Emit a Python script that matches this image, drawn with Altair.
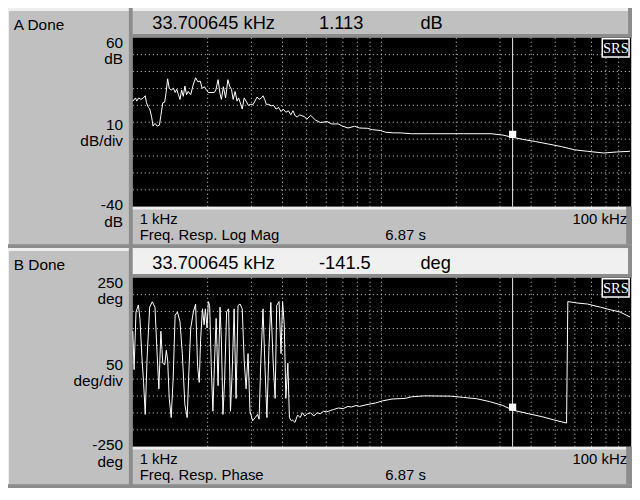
import altair as alt
import pandas as pd

# ---------------- values ----------------
# Trace A: Freq. Resp. Log Mag  (frequency in kHz, magnitude in dB)
mag_freq_khz = [1.000, 1.025, 1.037, 1.056, 1.078, 1.102, 1.122, 1.135, 1.156, 1.169,
                1.191, 1.206, 1.228, 1.254, 1.280, 1.297, 1.320, 1.344, 1.360, 1.381,
                1.401, 1.427, 1.458, 1.480, 1.503, 1.526, 1.548, 1.572, 1.596, 1.620,
                1.645, 1.670, 1.710, 1.748, 1.789, 1.828, 1.867, 1.901, 1.941, 1.971,
                2.013, 2.062, 2.125, 2.158, 2.203, 2.243, 2.272, 2.313, 2.362, 2.412,
                2.456, 2.494, 2.533, 2.579, 2.626, 2.664, 2.706, 2.755, 2.805, 2.856,
                2.916, 2.980, 3.051, 3.098, 3.163, 3.221, 3.292, 3.340, 3.392, 3.444,
                3.526, 3.604, 3.680, 3.771, 3.861, 3.946, 4.029, 4.128, 4.226, 4.319,
                4.410, 4.490, 4.585, 4.685, 4.741, 4.916, 5.006, 5.190, 5.430, 5.681,
                6.035, 6.315, 6.706, 6.915, 7.338, 7.797, 8.158, 8.795, 9.202, 9.928,
                10.39, 11.20, 11.90, 13.21, 15.79, 21.42, 27.67, 30.76, 33.70, 36.86,
                41.58, 46.91, 52.93, 59.70, 67.33, 78.32, 88.36, 100.0]
mag_db = [22.5, 24.4, 22.5, 24.4, 23.5, 24.4, 25.7, 21.5, 18.7, 18.1,
          13.0, 7.7, 9.3, 7.7, 8.3, 14.0, 21.5, 21.9, 27.2, 35.7,
          30.1, 29.1, 30.1, 27.6, 29.5, 26.3, 23.5, 29.1, 25.3, 31.4,
          26.3, 28.2, 26.3, 32.0, 36.3, 33.9, 34.4, 30.1, 31.0, 29.5,
          27.6, 27.6, 27.6, 29.1, 35.2, 26.9, 23.5, 31.0, 24.4, 35.2,
          31.0, 29.5, 23.5, 28.2, 22.5, 24.4, 21.5, 17.8, 24.4, 22.5,
          20.0, 20.6, 20.6, 22.5, 24.9, 23.5, 24.4, 25.7, 23.5, 20.6,
          20.6, 19.7, 20.0, 17.8, 18.7, 16.3, 17.8, 15.9, 16.8, 14.4,
          16.8, 14.0, 13.0, 14.4, 14.1, 13.2, 11.7, 14.1, 11.3, 9.8,
          10.4, 9.0, 9.0, 7.9, 6.6, 7.6, 6.6, 6.4, 5.6, 5.1,
          4.1, 3.7, 3.7, 3.2, 3.2, 3.2, 3.2, 2.4, 1.1, -0.1,
          -1.4, -2.9, -4.4, -6.3, -7.2, -8.2, -7.6, -7.2]

# Trace B: Freq. Resp. Phase  (frequency in kHz, phase in degrees)
phase_freq_khz = [1.000, 1.012, 1.030, 1.053, 1.068, 1.088, 1.105, 1.122, 1.142, 1.169,
                  1.198, 1.228, 1.254, 1.273, 1.297, 1.320, 1.344, 1.364, 1.381, 1.401,
                  1.427, 1.453, 1.480, 1.512, 1.548, 1.582, 1.620, 1.655, 1.680, 1.710,
                  1.752, 1.789, 1.822, 1.850, 1.873, 1.906, 1.936, 1.958, 1.989, 2.013,
                  2.038, 2.068, 2.100, 2.133, 2.164, 2.203, 2.243, 2.272, 2.305, 2.341,
                  2.384, 2.428, 2.471, 2.510, 2.556, 2.602, 2.650, 2.698, 2.755, 2.805,
                  2.856, 2.908, 2.961, 3.034, 3.107, 3.175, 3.221, 3.271, 3.340, 3.401,
                  3.463, 3.526, 3.591, 3.670, 3.737, 3.791, 3.875, 3.946, 4.004, 4.066,
                  4.128, 4.204, 4.265, 4.343, 4.398, 4.490, 4.601, 4.710, 4.814, 4.916,
                  5.037, 5.190, 5.346, 5.514, 5.681, 5.854, 6.035, 6.219, 6.408, 6.706,
                  7.016, 7.338, 7.567, 7.918, 8.158, 8.668, 9.489, 10.07, 11.03, 12.45,
                  13.21, 14.92, 18.98, 21.42, 24.16, 27.25, 30.76, 33.70, 39.14, 44.18,
                  49.83, 55.55, 56.20, 61.52, 67.34, 76.04, 83.22, 91.08, 96.70, 100.0]
phase_deg = [91.8, -21.8, 148.7, 169.5, 129.7, 16.1, -59.7, -154.4, 16.1, 162.9,
             179.0, 162.9, 16.1, -78.6, 91.8, -2.9, -7.6, 35.0, 6.6, -107.0,
             -163.8, -50.2, 139.2, 148.7, 120.3, 25.6, -126.0, -163.8, -31.3, 101.3,
             148.7, 172.3, -12.3, -59.7, 63.4, 158.1, 110.8, 158.1, 101.3, 179.5,
             167.6, -12.3, -144.9, 6.6, 129.7, -69.2, 162.9, 63.4, -154.4, -50.2,
             148.7, 158.1, -144.9, -31.3, 158.1, -107.0, 167.6, 172.3, 158.1, 6.6,
             -78.6, 25.6, -144.9, -173.3, -163.8, -154.4, -168.6, -2.9, 158.1, -12.3,
             -163.8, 35.0, 177.0, -2.9, -107.0, 167.6, 179.5, 25.6, 179.5, 110.8,
             -107.0, -2.9, -163.8, -173.3, -171.4, -178.0, -156.3, -163.8, -149.6, -159.1,
             -152.5, -149.6, -159.1, -149.6, -152.5, -144.9, -146.8, -143.0, -140.2, -135.4,
             -137.3, -130.7, -132.6, -127.9, -130.7, -126.0, -120.3, -114.6, -108.9, -107.0,
             -102.3, -99.4, -100.4, -104.2, -108.0, -116.5, -127.9, -141.5, -152.5, -161.0,
             -171.4, -179.9, 179.5, 175.2, 172.3, 162.9, 155.3, 148.7, 139.2, 134.0]

# marker readouts
cursor_khz = 33.700645
readout_a = 1.113
readout_b = -141.5
acq_time = "6.87 s"

# axis settings (top, per-division, bottom) and grid
mag_top, mag_div, mag_bottom = 60, 10, -40
phase_top, phase_div, phase_bottom = 250, 50, -250
grid_khz = [2, 3, 4, 5, 6, 7, 8, 9, 10, 20, 30, 40, 50, 60, 70, 80, 90]
grid_mag = [-30, -20, -10, 0, 10, 20, 30, 40, 50]
grid_phase = [-200, -150, -100, -50, 0, 50, 100, 150, 200]

# ---------------- layout ----------------
W, H = 624, 480
SX, SY = W / 640, H / 500
SANS = "Liberation Sans"
SERIF = "Liberation Serif"
GRAY = "#c0c0c0"
LIGHT = "#eeeeee"
HATCH = "#8c8c8c"
BLACK = "#000000"
WHITE = "#ffffff"
GRIDC = "#d4d4d4"


def px(v):
    return v * SX


def py(v):
    return v * SY


ONE = alt.Data(values=[{"k": 0}])


def box(x0, y0, x1, y1, fill, stroke=None, sw=0):
    kw = dict(fill=fill, opacity=1)
    if stroke:
        kw.update(stroke=stroke, strokeWidth=sw)
    return alt.Chart(ONE).mark_rect(**kw).encode(
        x=alt.value(px(x0)), x2=alt.value(px(x1)),
        y=alt.value(py(y0)), y2=alt.value(py(y1)))


def label(x, y, txt, size=16, align="left", font=SANS, color="black"):
    return alt.Chart(ONE).mark_text(
        text=txt, align=align, baseline="alphabetic", font=font,
        fontSize=size * SY, color=color).encode(x=alt.value(px(x)), y=alt.value(py(y)))


xscale = alt.Scale(type="log", domain=[1, 100], range=[px(128), px(638)], nice=False)


def panel(o, name, header_fill, freqs, vals, top, div, bottom, grid_vals, unit,
          readout, readout_txt, title):
    ys = alt.Scale(domain=[bottom, top], range=[py(o + 207), py(o + 31)],
                   nice=False, zero=False)
    layers = [
        box(0, o, 124, o + 3, LIGHT),
        box(0, o, 1, o + 246, LIGHT),
        box(124, o, 128, o + 250, HATCH),
        box(128, o, 636, o + 3, LIGHT),
        box(128, o + 3, 636, o + 27, header_fill),
        box(636, o, 640, o + 31, HATCH),
        box(128, o + 27, 640, o + 31, HATCH),
        box(128, o + 31, 639, o + 207, BLACK),
        box(128, o + 207, 634, o + 210, LIGHT),
        box(634, o + 207, 640, o + 246, HATCH),
        box(0, o + 246, 640, o + 250, HATCH),
    ]
    gv = pd.DataFrame({"f": grid_khz})
    gh = pd.DataFrame({"v": grid_vals})
    layers.append(alt.Chart(gv).mark_rule(color=GRIDC, strokeWidth=1, strokeDash=[1, 3]).encode(
        x=alt.X("f:Q", scale=xscale, axis=None),
        y=alt.value(py(o + 31)), y2=alt.value(py(o + 207))))
    layers.append(alt.Chart(gh).mark_rule(color=GRIDC, strokeWidth=1, strokeDash=[1, 3]).encode(
        y=alt.Y("v:Q", scale=ys, axis=None),
        x=alt.value(px(128)), x2=alt.value(px(639))))
    cur = pd.DataFrame({"f": [cursor_khz], "v": [readout]})
    layers.append(alt.Chart(cur).mark_rule(color="#e6e6e6", strokeWidth=1).encode(
        x=alt.X("f:Q", scale=xscale, axis=None),
        y=alt.value(py(o + 31)), y2=alt.value(py(o + 207))))
    tr = pd.DataFrame({"f": freqs, "v": vals, "i": list(range(len(freqs)))})
    layers.append(alt.Chart(tr).mark_line(color=WHITE, strokeWidth=1, interpolate="linear").encode(
        x=alt.X("f:Q", scale=xscale, axis=None),
        y=alt.Y("v:Q", scale=ys, axis=None),
        order="i:Q"))
    layers.append(alt.Chart(cur).mark_square(size=52, color=WHITE, opacity=1, filled=True,
                                             yOffset=-3 * SY).encode(
        x=alt.X("f:Q", scale=xscale, axis=None),
        y=alt.Y("v:Q", scale=ys, axis=None)))
    # SRS logo
    layers.append(box(609.5, o + 32, 637, o + 51, BLACK, stroke=WHITE, sw=1.5))
    layers.append(label(623.5, o + 47, "SRS", size=15, align="center", font=SERIF, color=WHITE))
    # texts
    layers += [
        label(6, o + 23, name, 16),
        label(118, o + 42, str(top), 16, "right"),
        label(118, o + 58, unit, 16, "right"),
        label(118, o + 127, str(div), 16, "right"),
        label(118, o + 144, unit + "/div", 16, "right"),
        label(118, o + 210, str(bottom), 16, "right"),
        label(118, o + 228, unit, 16, "right"),
        label(148, o + 22, f"{cursor_khz:.6f} kHz", 19),
        label(319, o + 22, readout_txt, 19),
        label(423, o + 22, unit, 19),
        label(135, o + 225, "1 kHz", 15.5),
        label(635, o + 225, "100 kHz", 15.5, "right"),
        label(135, o + 242, title, 15.5),
        label(387, o + 242, acq_time, 15.5),
    ]
    return layers


layers = [box(0, 0, 640, 500, GRAY)]
layers += panel(0, "A Done", GRAY, mag_freq_khz, mag_db, mag_top, mag_div, mag_bottom,
                grid_mag, "dB", readout_a, f"{readout_a:.3f}", "Freq. Resp. Log Mag")
layers += panel(250, "B Done", "#f0f0f0", phase_freq_khz, phase_deg, phase_top, phase_div,
                phase_bottom, grid_phase, "deg", readout_b, f"{readout_b:.1f}",
                "Freq. Resp. Phase")

chart = alt.layer(*layers).properties(
    width=W, height=H, padding=0, background=GRAY,
    autosize=alt.AutoSizeParams(type="none"),
).resolve_scale(y="independent").configure_view(stroke=None)

chart.save("out.html", embed_options={"renderer": "svg", "actions": False})
